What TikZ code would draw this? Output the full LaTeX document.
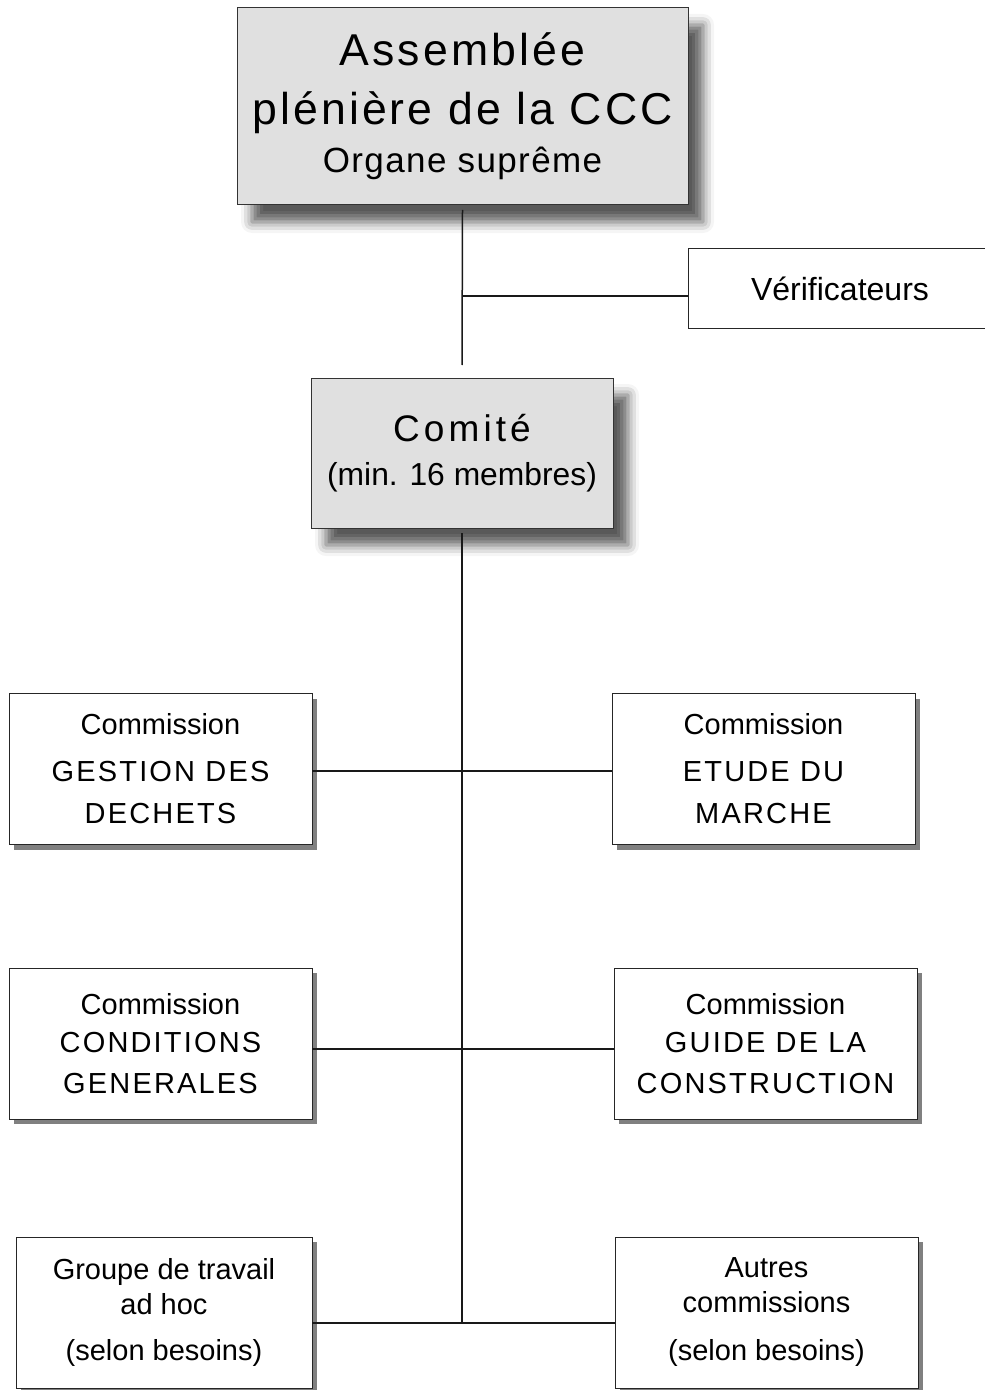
\documentclass[tikz,border=0pt]{standalone}
\usepackage{fontspec}
\setmainfont{Liberation Sans}
\newfontfamily\widefont[LetterSpace=7]{Liberation Sans}
\newfontfamily\capsfont[LetterSpace=7.5]{Liberation Sans}
\usepackage{tikz}
\usetikzlibrary{positioning, shadows, shadows.blur}

\begin{document}
\begin{tikzpicture}[x=0.5pt, y=-0.5pt, node distance=150pt]
\tikzstyle{organ} = [rectangle, draw=black!80, line width=0.5pt, fill=black!12, inner sep=0pt, outer sep=0pt, align=center, blur shadow={shadow xshift=7.5pt, shadow yshift=-8.5pt, shadow blur radius=5.5pt, shadow opacity=65}]
\tikzstyle{commission} = [rectangle, draw=black!85, line width=0.5pt, fill=white, inner sep=0pt, outer sep=0pt, minimum width=151.5pt, minimum height=75.5pt, align=center, font=\fontsize{14.5}{17.5}\selectfont, drop shadow={shadow xshift=2.5pt, shadow yshift=-2.5pt, fill=black!50, opacity=1}]
\tikzstyle{link} = [line width=0.75pt, black!90]

\useasboundingbox (0,0) rectangle (984,1390);

% organes
\node (asm) [organ, minimum width=225.5pt, minimum height=98.5pt, font=\fontsize{22.3}{30}\selectfont] at (462.5,106.5) {{\widefont Assemblée}\\[-0.5pt]{\widefont plénière de la CCC}\\[-6pt]{\fontsize{17.5}{30}\selectfont\addfontfeature{LetterSpace=4}Organe suprême}};
\node (verif) [rectangle, draw=black!85, line width=0.5pt, inner sep=0pt, outer sep=0pt, minimum width=152pt, minimum height=40pt, font=\fontsize{16}{19}\selectfont] at (840,289) {Vérificateurs};
\node (com) [organ, minimum width=151pt, minimum height=75pt, font=\fontsize{15.9}{22}\selectfont] at (462,453) {{\fontsize{18.5}{22}\selectfont\addfontfeature{LetterSpace=11}Comité}\\(min. 16 membres)};

% commissions
\node (gd) [commission] at (160.5,769) {Commission\\[6pt]{\capsfont GESTION DES}\\[3.5pt]{\capsfont DECHETS}};
\node (em) [commission, right=of gd] {Commission\\[6pt]{\capsfont ETUDE DU}\\[3.5pt]{\capsfont MARCHE}};
\node (cg) [commission] at (160.5,1043.5) {Commission\\[1.5pt]{\capsfont CONDITIONS}\\[3pt]{\capsfont GENERALES}};
\node (gc) [commission, right=151pt of cg] {Commission\\[1.5pt]{\capsfont GUIDE DE LA}\\[3pt]{\capsfont CONSTRUCTION}};
\node (gt) [commission, minimum width=148pt] at (164,1312.5) {Groupe de travail\\ad hoc\\[5.5pt](selon besoins)};
\node (ac) [commission, right=151.5pt of gt] {Autres\\commissions\\[6.5pt](selon besoins)};

% liaisons
\coordinate (vj) at ([yshift=-3.5pt]verif.west);
\coordinate (r3) at ([yshift=-5.25pt]gt.east);
\draw [link] ([yshift=-2.5pt]asm.south) -- ([yshift=6.5pt]com.north);
\draw [link] (vj) -- (vj -| asm.south);
\draw [link] ([yshift=-2.5pt]com.south) -- (r3 -| com.south);
\draw [link] ([yshift=-1pt]gd.east) -- ([yshift=-1pt]em.west);
\draw [link] ([yshift=-2.75pt]cg.east) -- ([yshift=-2.75pt]gc.west);
\draw [link] (r3) -- (r3 -| ac.west);
\end{tikzpicture}
\end{document}
